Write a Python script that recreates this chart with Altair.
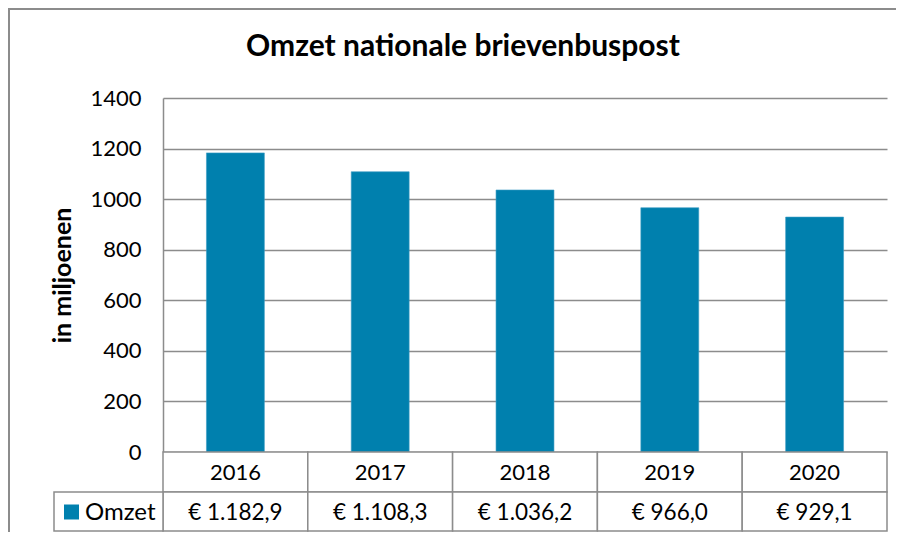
import altair as alt
import pandas as pd

years = ["2016", "2017", "2018", "2019", "2020"]
omzet = [1182.9, 1108.3, 1036.2, 966.0, 929.1]
series_name = "Omzet"
title_text = "Omzet nationale brievenbuspost"
y_title = "in miljoenen"
y_ticks = [0, 200, 400, 600, 800, 1000, 1200, 1400]


def nl_euro(v):
    s = f"{v:,.1f}".replace(",", "X").replace(".", ",").replace("X", ".")
    return "€ " + s


labels = [nl_euro(v) for v in omzet]

df = pd.DataFrame({"year": years, "omzet": omzet, "label": labels})
one = pd.DataFrame({"name": [series_name], "title": [title_text]})

FONT = "Lato"
BLUE = "#0080AE"
GRID = "#8C8C8C"
TOP = 90
W, H = 724, 354
R1_TOP, R1_BOT, R2_BOT = H, H + 40, H + 79
BOTTOM = 80
LEG_LEFT = -109

xenc = alt.X("year:N", scale=alt.Scale(paddingInner=0, paddingOuter=0), axis=None)

bars = alt.Chart(df).mark_bar(
    color=BLUE, width=alt.RelativeBandSize(0.4), stroke="#3D9CC4", strokeWidth=0.6
).encode(
    x=xenc,
    y=alt.Y(
        "omzet:Q",
        scale=alt.Scale(domain=[0, 1400], nice=False),
        axis=alt.Axis(
            values=y_ticks,
            format="d",
            grid=True,
            gridColor=GRID,
            gridWidth=1.5,
            domain=True,
            domainColor=GRID,
            domainWidth=1.5,
            ticks=False,
            labelPadding=22,
            labelFontSize=22,
            labelFont=FONT,
            labelColor="#000",
            title=y_title,
            titleFont=FONT,
            titleFontSize=25,
            titleFontWeight="bold",
            titleColor="#000",
            titleAngle=270,
            titleX=-101,
            titleY=H / 2,
            titleAlign="center",
            titleBaseline="middle",
        ),
    ),
)

cells1 = alt.Chart(df).mark_rect(fill="white", stroke=GRID, strokeWidth=1.5).encode(
    x=xenc, y=alt.value(R1_TOP), y2=alt.value(R1_BOT)
)
cells2 = alt.Chart(df).mark_rect(fill="white", stroke=GRID, strokeWidth=1.5).encode(
    x=xenc, y=alt.value(R1_BOT), y2=alt.value(R2_BOT)
)
year_txt = alt.Chart(df).mark_text(font=FONT, fontSize=22, color="#000", baseline="middle").encode(
    x=alt.X("year:N", bandPosition=0.5, scale=alt.Scale(paddingInner=0, paddingOuter=0), axis=None),
    y=alt.value((R1_TOP + R1_BOT) / 2 + 1),
    text="year:N",
)
val_txt = alt.Chart(df).mark_text(font=FONT, fontSize=22.5, color="#000", baseline="middle").encode(
    x=alt.X("year:N", bandPosition=0.5, scale=alt.Scale(paddingInner=0, paddingOuter=0), axis=None),
    y=alt.value((R1_BOT + R2_BOT) / 2 + 1),
    text="label:N",
)

leg_cell = alt.Chart(one).mark_rect(fill="white", stroke=GRID, strokeWidth=1.5).encode(
    x=alt.value(LEG_LEFT), x2=alt.value(0), y=alt.value(R1_BOT), y2=alt.value(R2_BOT)
)
leg_sq = alt.Chart(one).mark_rect(color=BLUE).encode(
    x=alt.value(LEG_LEFT + 10), x2=alt.value(LEG_LEFT + 25),
    y=alt.value((R1_BOT + R2_BOT) / 2 - 7), y2=alt.value((R1_BOT + R2_BOT) / 2 + 8),
)
leg_txt = alt.Chart(one).mark_text(font=FONT, fontSize=24, color="#000", align="left", baseline="middle").encode(
    x=alt.value(LEG_LEFT + 31), y=alt.value((R1_BOT + R2_BOT) / 2 + 1), text="name:N"
)

title_mark = alt.Chart(one).mark_text(
    font=FONT, fontSize=30, fontWeight="bold", color="#000", align="center", baseline="middle"
).encode(x=alt.value(300), y=alt.value(-51), text="title:N")

frame_left = alt.Chart(one).mark_rule(color=GRID, strokeWidth=2).encode(
    x=alt.value(-154), y=alt.value(-TOP), y2=alt.value(H + BOTTOM)
)
frame_top = alt.Chart(one).mark_rule(color=GRID, strokeWidth=2).encode(
    x=alt.value(-155), x2=alt.value(W + 9), y=alt.value(-TOP + 1)
)

chart = alt.layer(
    frame_left, frame_top, bars, cells1, cells2, year_txt, val_txt, leg_cell, leg_sq, leg_txt, title_mark
).properties(
    width=W,
    height=H,
    autosize=alt.AutoSizeParams(type="none"),
    padding={"left": 155, "top": TOP, "right": 9, "bottom": BOTTOM},
).configure_view(stroke=None)

chart.save("out.html", embed_options={"renderer": "svg", "actions": False})
